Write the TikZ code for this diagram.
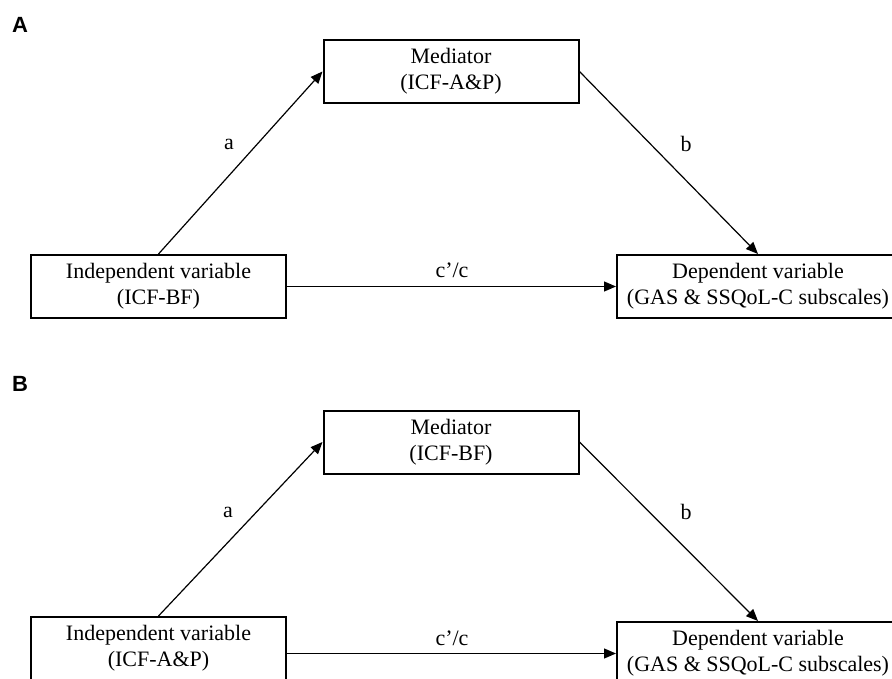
\documentclass[tikz,border=0pt]{standalone}
\usepackage{fontspec}
\setmainfont{Liberation Serif}
\newfontfamily\panelfont{Liberation Sans}
\usetikzlibrary{positioning,arrows.meta}
\tikzset{
  node-box/.style={draw=black,line width=2pt,minimum height=63pt,
    minimum width=255pt,inner sep=0pt,align=center,
    font=\fontsize{22}{26}\selectfont},
  node-dep/.style={node-box,minimum width=282pt},
  node-panel/.style={font=\panelfont\bfseries\fontsize{22}{26}\selectfont},
  node-path/.style={anchor=base,font=\fontsize{22}{26}\selectfont},
  arrow/.style={-{Triangle[length=12pt,width=10pt]},line width=1.2pt,draw=black},
}

\begin{document}
\begin{tikzpicture}[x=1pt,y=-1pt]
  \useasboundingbox (0,0) rectangle (892,679);
  % A
  \node[node-panel] (panA) at (20,25) {A};
  \node[node-box] (medA) at (451,71.5) {Mediator\\(ICF-A\&P)};
  \node[node-box] (indA) at (158.5,286.5) {Independent variable\\(ICF-BF)};
  \node[node-dep] (depA) at (758,286.5) {Dependent variable\\(GAS \& SSQoL-C subscales)};
  \node[node-path] (pathAa) at (229,150) {a};
  \node[node-path] (pathAb) at (686,152) {b};
  \node[node-path] (pathAc) at (452,277) {c'/c};
  \draw[arrow] (indA.north) -- (medA.west);
  \draw[arrow] (medA.east) -- (depA.north);
  \draw[arrow] (indA.east) -- (depA.west);
  % B
  \node[node-panel] (panB) at (20,383.5) {B};
  \node[node-box] (medB) at (451,442) {Mediator\\(ICF-BF)};
  \node[node-box] (indB) at (158.5,648.5) {Independent variable\\(ICF-A\&P)};
  \node[node-dep] (depB) at (758,653.5) {Dependent variable\\(GAS \& SSQoL-C subscales)};
  \node[node-path] (pathBa) at (228,517) {a};
  \node[node-path] (pathBb) at (686,519) {b};
  \node[node-path] (pathBc) at (452,645) {c'/c};
  \draw[arrow] (indB.north) -- (medB.west);
  \draw[arrow] (medB.east) -- (depB.north);
  \draw[arrow] (indB.east |- depB.west) -- (depB.west);
\end{tikzpicture}
\end{document}
